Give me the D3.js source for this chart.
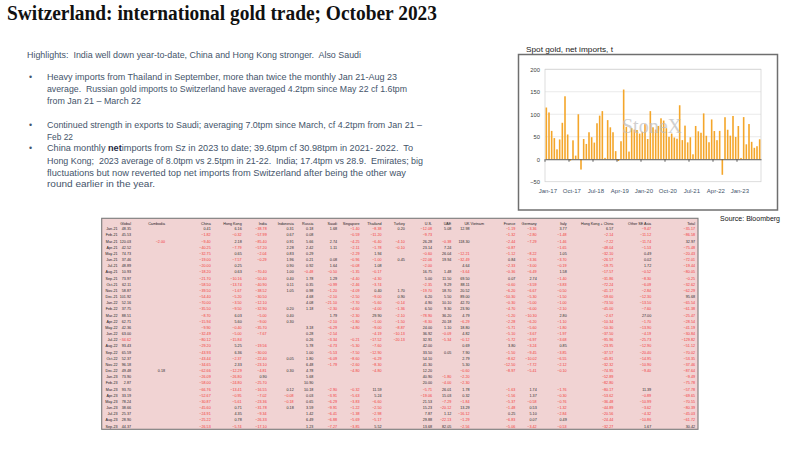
<!DOCTYPE html>
<html>
<head>
<meta charset="utf-8">
<script src="https://cdn.jsdelivr.net/npm/d3@7"></script>
<style>
  body { margin: 0; background: #fff; }
  svg { display: block; }
  text { white-space: pre; }
</style>
</head>
<body>
<div id="slide"></div>
<script>
// Switzerland gold trade slide: notes, spot net-imports bar chart, monthly table

const N = null;

// bar chart: spot gold net imports (t), Jan-17 .. Dec-20
const netImports1720 = [115, 104, 63, 47, 22, 44, 81, 140, 55, -3, 42, 8,
    100, -23, 45, 34, 60, 49, 37, 80, 97, 107, 3, 87,
    71, 60, 18, -4, 40, 155, 72, 17, 69, 66, 65, 57,
    61, 78, 45, 107, 71, 66, 74, 91, 86, 69, 50, 57];
const chartTicks = ["Jan-17", "Oct-17", "Jul-18", "Apr-19", "Jan-20", "Oct-20", "Jul-21", "Apr-22", "Jan-23"];
const yTicks = [-50, 0, 50, 100, 150, 200];

// table
const tableRows = ["Jan-21", "Feb-21", "Mar-21", "Apr-21", "May-21", "Jun-21", "Jul-21", "Aug-21", "Sep-21", "Oct-21", "Nov-21", "Dec-21",
    "Jan-22", "Feb-22", "Mar-22", "Apr-22", "May-22", "Jun-22", "Jul-22", "Aug-22", "Sep-22", "Oct-22", "Nov-22", "Dec-22",
    "Jan-23", "Feb-23", "Mar-23", "Apr-23", "May-23", "Jun-23", "Jul-23", "Aug-23", "Sep-23"];
const tableCols = ["Global", "Cambodia", "China", "Hong Kong", "India", "Indonesia", "Russia", "Saudi", "Singapore", "Thailand",
    "Turkey", "U.S.", "UAE", "UK", "Vietnam", "France", "Germany", "Italy", "Hong Kong + China", "Other SE Asia", "Total"];

const global = [48.35, 45.53, 120.03, 42.52, 74.73, 37.46, 48.89, 10.93, 73.97, 62.11, 58.87, 101.92,
    52.16, 37.75, 88.51, 62.71, 42.36, 63.00, -34.62, 93.43, 65.59, 52.37, 96.18, 49.48,
    73.90, 2.87, 93.70, 33.19, 78.24, 38.66, 25.37, 28.90, 44.37];
const cambodia = [N, N, -2.00, N, N, N, N, N, N, N, N, N,
    N, N, N, N, N, N, N, N, N, N, N, 0.18,
    N, N, N, N, N, N, N, N, N];
const china = [0.41, -1.82, -9.40, -40.25, -32.75, -19.00, -20.00, -18.20, -21.70, -58.50, -39.50, -54.40,
    -70.00, -35.50, -8.70, -15.94, -9.90, -32.49, -80.12, -29.20, -43.93, -43.44, -34.65, -62.66,
    -26.09, -58.00, -66.76, -52.67, -30.87, -45.60, -24.91, -25.22, -26.53];
const hongKong = [6.16, -0.32, 2.18, -7.79, 0.65, -7.57, 0.25, 0.63, -10.16, -13.74, -1.67, -5.20,
    -3.50, -9.50, 6.03, 5.60, -0.40, -5.00, -15.84, 5.25, 6.36, -2.37, 2.33, -12.29,
    -26.80, -24.80, -13.41, -0.95, -5.61, 0.71, 4.35, 0.78, -5.74];
const india = [-38.78, -57.99, -85.40, -57.20, -2.04, -0.29, N, -70.40, -50.40, -40.90, -38.52, -30.50,
    -12.10, -32.90, -5.00, -9.00, -35.70, -7.67, N, -19.56, -30.00, -22.40, -23.10, -4.81,
    0.90, -25.70, -16.55, -7.02, -23.36, -31.78, -9.34, -26.33, -17.10];
const indonesia = [0.31, 0.67, 0.91, 2.28, 0.83, 1.96, 0.90, 1.00, 0.40, 0.11, 1.05, N,
    N, 0.20, 0.40, 0.30, N, N, N, N, N, 0.05, N, 0.30,
    N, N, 0.12, -0.08, -0.18, 0.18, N, N, N];
const russia = [0.18, 0.08, 5.66, 2.42, 0.29, 0.21, 0.92, -0.48, 1.78, 0.35, 0.98, 4.68,
    4.08, 1.18, N, N, 3.18, 0.28, 0.26, 5.78, 1.00, 1.80, 6.48, 4.78,
    5.68, 10.90, 10.18, 0.03, 0.65, 3.59, 1.42, 6.49, 1.23];
const saudi = [1.68, N, 2.74, 1.11, N, 0.08, 1.64, -0.50, 1.29, -0.99, -1.20, -2.10,
    -21.10, -2.30, 1.79, -2.10, -6.29, -2.54, -3.34, -4.73, -5.53, -6.09, -1.79, N,
    N, N, -2.90, -3.91, -6.29, -9.91, -6.41, -6.88, -7.27];
const singapore = [-1.40, -0.59, -4.25, -2.11, -2.29, -0.96, -0.08, -1.35, -4.40, -2.46, -4.09, -2.50,
    -7.70, -4.60, -2.30, -1.80, -4.80, N, -0.21, -5.30, -7.50, -8.60, -2.60, -4.80,
    N, N, -0.32, -5.63, -3.83, -1.22, -1.38, -5.69, -3.85];
const thailand = [-8.38, -11.20, -6.40, -1.78, 1.94, -1.00, 1.08, -0.17, -4.30, -3.74, 0.40, -9.00,
    -5.60, -4.00, 29.90, -1.00, -9.00, -4.19, -17.52, -7.60, -12.90, -6.29, -8.30, -4.80,
    N, N, 11.59, 5.24, -6.60, -2.50, -2.98, -5.17, 5.52];
const turkey = [0.20, N, -4.10, -0.10, N, 0.45, N, N, N, N, 1.70, 0.90,
    -0.14, -1.36, -2.10, -1.50, -8.87, -10.13, -20.13, N, N, N, N, N,
    N, N, N, N, N, N, N, N, N];
const us = [-12.08, -9.73, 26.28, 23.14, -0.60, -22.06, -2.00, 16.75, 5.00, -2.35, -19.70, 6.20,
    4.90, 6.50, -78.90, -8.30, 24.00, 36.92, 32.91, 42.00, 33.50, 54.10, 41.30, 12.20,
    40.90, 20.00, -5.71, -19.06, 21.53, 15.23, 7.87, 29.88, 13.68];
const uae = [5.08, N, -0.38, 7.24, 26.04, 19.94, N, 1.48, 11.50, 9.29, 18.70, 5.50,
    10.10, 9.30, 36.20, 20.18, 1.10, -0.09, -5.34, N, 0.05, N, N, N,
    -1.80, -4.00, 26.01, 15.03, -7.29, -20.12, 1.12, -22.13, 82.05];
const uk = [12.98, N, 118.30, N, -12.21, -32.49, 4.64, -3.64, 69.50, 88.11, 20.52, 89.00,
    42.70, 23.90, 4.79, -6.29, 18.80, 4.82, -0.12, 0.69, 7.90, 2.79, 5.30, -0.60,
    -2.20, -2.30, 1.78, 0.32, -1.84, 13.29, -16.12, -1.29, -2.56];
const vietnam = [];
const france = [-1.19, -1.32, -2.44, -0.87, -1.12, 0.84, -2.33, -0.36, 0.07, -0.60, -6.20, -10.30,
    -0.30, -4.70, -1.20, -2.28, -5.71, -5.10, -5.72, 3.80, -1.50, -8.62, -12.50, -8.97,
    N, N, -1.63, -1.56, -5.37, -1.48, 0.25, -6.83, -5.06];
const germany = [-3.36, -2.80, -7.29, N, -8.22, -3.36, -3.00, -6.49, 2.74, -3.59, -6.67, -5.30,
    -5.00, -6.00, -10.30, -6.20, -5.60, -3.67, -6.97, -3.24, -9.45, -10.02, -7.72, -5.41,
    N, N, 1.74, 1.37, -0.58, 0.53, 5.10, 0.07, -3.42];
const italy = [3.77, -1.48, -1.46, -1.65, 1.05, -3.70, -0.19, 1.58, -1.40, -3.83, -0.50, -1.50,
    -1.00, -2.10, 2.80, -1.10, -1.80, -1.97, -3.68, 0.85, -3.85, -6.55, -2.12, -0.10,
    N, N, -1.76, -0.30, -0.76, -1.32, -2.84, 0.49, -0.53];
const hkChina = [6.57, -2.14, -7.22, -48.04, -32.10, -26.57, -19.75, -17.57, -31.86, -72.24, -41.17, -59.60,
    -73.50, -45.00, -2.67, -10.34, -10.30, -37.50, -95.96, -23.95, -37.57, -45.81, -32.32, -74.95,
    -52.89, -82.80, -80.17, -53.62, -36.48, -44.89, -20.56, -24.44, -32.27];
const otherSEAsia = [-9.47, -11.12, -11.74, -1.53, 0.49, 0.02, 1.72, -0.52, -8.30, -6.09, -2.84, -12.30,
    -13.50, -7.60, 27.00, -1.70, -13.90, -4.19, -25.73, -12.90, -20.40, -14.95, -10.90, -9.40,
    N, N, 11.39, -0.89, -10.99, -3.62, -4.32, -10.86, 1.67];
const total = [-35.17, -86.58, 32.97, -75.48, -20.43, -72.01, -19.44, -80.05, -0.25, -32.62, -62.29, 95.68,
    -65.54, -61.38, -25.47, -28.54, -41.19, -30.84, -129.82, -51.12, -70.02, -53.35, -37.46, -87.64,
    -9.49, -75.78, -57.78, -69.65, -70.55, -80.39, -45.03, -61.72, 30.42];

const tableData = [global, cambodia, china, hongKong, india, indonesia, russia, saudi, singapore, thailand,
    turkey, us, uae, uk, vietnam, france, germany, italy, hkChina, otherSEAsia, total];

// notes text
const highlights = "Highlights:  India well down year-to-date, China and Hong Kong stronger.  Also Saudi";
const bullets = [
    ["Heavy imports from Thailand in September, more than twice the monthly Jan 21-Aug 23",
     "average.  Russian gold imports to Switzerland have averaged 4.2tpm since May 22 cf 1.6tpm",
     "from Jan 21 \u2013 March 22"],
    ["Continued strength in exports to Saudi; averaging 7.0tpm since March, cf 4.2tpm from Jan 21 \u2013",
     "Feb 22"],
    ["China monthly |net|imports from Sz in 2023 to date; 39.6tpm cf 30.98tpm in 2021- 2022.  To",
     "Hong Kong;  2023 average of 8.0tpm vs 2.5tpm in 21-22.  India; 17.4tpm vs 28.9.  Emirates; big",
     "fluctuations but now reverted top net imports from Switzerland after being the other way",
     "round earlier in the year."]
];

// ---------------------------------------------------------------------------
const W = 800, H = 450;
const svg = d3.select("#slide").append("svg")
    .attr("width", W)
    .attr("height", H);

svg.append("rect").attr("width", W).attr("height", H).attr("fill", "#fff");

// Title
svg.append("text")
    .attr("x", 7)
    .attr("y", 20)
    .attr("textLength", 430)
    .attr("lengthAdjust", "spacingAndGlyphs")
    .style("font-family", "'Liberation Serif', 'DejaVu Serif', serif")
    .style("font-weight", "bold")
    .style("font-size", "20px")
    .attr("fill", "#111")
    .text("Switzerland: international gold trade; October 2023");

// Notes
const noteFont = "'Liberation Sans', Arial, sans-serif";
const noteColor = "#44546a";
const noteLines = [
    {x: 27, y: 58, w: 334, t: highlights},
    {x: 47, y: 79.5, w: 350, t: bullets[0][0], dot: true},
    {x: 47, y: 91.8, w: 360, t: bullets[0][1]},
    {x: 47, y: 104, w: 94, t: bullets[0][2]},
    {x: 47, y: 128, w: 375, t: bullets[1][0], dot: true},
    {x: 47, y: 139.5, w: 26, t: bullets[1][1]},
    {x: 47, y: 151.3, w: 366, t: bullets[2][0], dot: true},
    {x: 47, y: 163.5, w: 376, t: bullets[2][1]},
    {x: 47, y: 175.5, w: 359, t: bullets[2][2]},
    {x: 47, y: 187.3, w: 108, t: bullets[2][3]}
];

noteLines.forEach(l => {
    if (l.dot) {
        svg.append("text")
            .attr("x", 29)
            .attr("y", l.y)
            .style("font-family", noteFont)
            .style("font-size", "8.8px")
            .attr("fill", noteColor)
            .text("\u2022");
    }
    const t = svg.append("text")
        .attr("x", l.x)
        .attr("y", l.y)
        .attr("textLength", l.w)
        .attr("lengthAdjust", "spacingAndGlyphs")
        .style("font-family", noteFont)
        .style("font-size", "8.8px")
        .attr("fill", noteColor);
    // "|net|" marks the bold word
    l.t.split("|").forEach((part, i) => {
        t.append("tspan")
            .style("font-weight", i === 1 ? "bold" : "normal")
            .attr("fill", i === 1 ? "#1f2a44" : noteColor)
            .text(part);
    });
});

// ---------------------------------------------------------------------------
// Spot gold chart
const months = d3.timeMonth.range(new Date(2017, 0, 1), new Date(2023, 9, 1)).map(d3.timeFormat("%b-%y"));
const netImports = netImports1720.concat(global);
const barData = months.map((m, i) => ({month: m, value: netImports[i]}));

svg.append("text")
    .attr("x", 526)
    .attr("y", 51.5)
    .attr("textLength", 87)
    .attr("lengthAdjust", "spacingAndGlyphs")
    .style("font-family", "'Liberation Sans', Arial, sans-serif")
    .style("font-size", "7.5px")
    .attr("fill", "#222")
    .text("Spot gold, net imports, t");

svg.append("rect")
    .attr("x", 518.5)
    .attr("y", 54.5)
    .attr("width", 259)
    .attr("height", 155.5)
    .attr("fill", "#fff")
    .attr("stroke", "#6f6f6f")
    .attr("stroke-width", 1.5);

const plot = {left: 545, right: 761, top: 69.3, bottom: 181.7};

const x = d3.scaleBand()
    .domain(months)
    .range([plot.left, plot.right])
    .paddingInner(0.4)
    .paddingOuter(0.2);

const y = d3.scaleLinear()
    .domain([-50, 200])
    .range([plot.bottom, plot.top]);

// gridlines
svg.append("g")
    .selectAll("line")
    .data(yTicks.filter(v => v > 0))
    .join("line")
    .attr("x1", plot.left)
    .attr("x2", plot.right)
    .attr("y1", d => y(d))
    .attr("y2", d => y(d))
    .attr("stroke", "#e4e4e4")
    .attr("stroke-width", 0.8);

svg.append("rect")
    .attr("x", plot.left)
    .attr("y", plot.top)
    .attr("width", plot.right - plot.left)
    .attr("height", plot.bottom - plot.top)
    .attr("fill", "none")
    .attr("stroke", "#d4d4d4")
    .attr("stroke-width", 0.8);

// bars
svg.append("g")
    .selectAll("rect")
    .data(barData)
    .join("rect")
    .attr("x", d => x(d.month))
    .attr("y", d => Math.min(y(d.value), y(0)))
    .attr("width", x.bandwidth())
    .attr("height", d => Math.abs(y(d.value) - y(0)))
    .attr("fill", "#f4a62a");

// watermark
svg.append("text")
    .attr("x", 652)
    .attr("y", 133)
    .attr("text-anchor", "middle")
    .style("font-family", "'Liberation Serif', serif")
    .style("font-size", "20px")
    .attr("fill", "#bdbdbd")
    .attr("opacity", 0.7)
    .text("StoneX");

// zero axis with ticks
const xAxis = d3.axisBottom(x)
    .tickValues(chartTicks)
    .tickSize(2.5)
    .tickSizeOuter(0)
    .tickFormat("");

const xAxisG = svg.append("g")
    .attr("transform", `translate(0,${y(0)})`)
    .call(xAxis);
xAxisG.select(".domain").attr("stroke", "#595959").attr("stroke-width", 1);
xAxisG.selectAll(".tick line")
    .attr("stroke", "#595959")
    .attr("transform", `translate(${-x.step() * 0.5},0)`);

// x labels
svg.append("g")
    .selectAll("text")
    .data(chartTicks)
    .join("text")
    .attr("x", d => x(d) + x.bandwidth() / 2 + 1.5)
    .attr("y", 193)
    .attr("text-anchor", "middle")
    .style("font-family", "'Liberation Sans', Arial, sans-serif")
    .style("font-size", "6px")
    .attr("fill", "#44546a")
    .text(d => d);

// y axis labels
const yAxis = d3.axisLeft(y).tickValues(yTicks).tickSize(0).tickPadding(5);
const yAxisG = svg.append("g")
    .attr("transform", `translate(${plot.left},0)`)
    .call(yAxis);
yAxisG.select(".domain").remove();
yAxisG.selectAll("text")
    .style("font-family", "'Liberation Sans', Arial, sans-serif")
    .style("font-size", "5.8px")
    .attr("fill", "#404040");

svg.append("text")
    .attr("x", 780)
    .attr("y", 221)
    .attr("text-anchor", "end")
    .style("font-family", "'Liberation Sans', Arial, sans-serif")
    .style("font-size", "7px")
    .attr("fill", "#111")
    .text("Source: Bloomberg");

// ---------------------------------------------------------------------------
// Table
const tbl = {left: 101.7, right: 698, top: 218.3, bottom: 429.3};
const colRight = [131, 165, 210.7, 241.7, 266.7, 293.7, 313.3, 337, 359.5, 381.5,
    404.8, 432, 451.3, 469.5, 484, 515.3, 536.7, 566.7, 613.3, 651.2, 695];

const colX = d3.scaleOrdinal().domain(tableCols).range(colRight);
const rowY = d3.scaleBand().domain(tableRows).range([225.9, 429.3]);

svg.append("rect")
    .attr("x", tbl.left)
    .attr("y", tbl.top)
    .attr("width", tbl.right - tbl.left)
    .attr("height", tbl.bottom - tbl.top)
    .attr("fill", "#f1d3d3")
    .attr("stroke", "#7a7a7a")
    .attr("stroke-width", 1.1);

const cellFont = "'Liberation Sans', Arial, sans-serif";
const cellSize = "3.7px";
const fmt = d3.format(".2f");

// header
svg.append("g")
    .selectAll("text")
    .data(tableCols)
    .join("text")
    .attr("x", d => colX(d))
    .attr("y", 223.8)
    .attr("dy", "0.35em")
    .attr("text-anchor", "end")
    .style("font-family", cellFont)
    .style("font-size", cellSize)
    .attr("fill", "#222")
    .text(d => d);

// row labels
svg.append("g")
    .selectAll("text")
    .data(tableRows)
    .join("text")
    .attr("x", 117.5)
    .attr("y", d => rowY(d) + rowY.bandwidth() / 2)
    .attr("dy", "0.35em")
    .attr("text-anchor", "end")
    .style("font-family", cellFont)
    .style("font-size", cellSize)
    .attr("fill", "#222")
    .text(d => d);

// cells
const cells = [];
tableCols.forEach((c, ci) => {
    tableRows.forEach((r, ri) => {
        const v = tableData[ci][ri];
        if (v !== null && v !== undefined) cells.push({col: c, row: r, value: v});
    });
});

svg.append("g")
    .selectAll("text")
    .data(cells)
    .join("text")
    .attr("x", d => colX(d.col))
    .attr("y", d => rowY(d.row) + rowY.bandwidth() / 2)
    .attr("dy", "0.35em")
    .attr("text-anchor", "end")
    .style("font-family", cellFont)
    .style("font-size", cellSize)
    .attr("fill", d => d.value < 0 ? "#f23a3a" : "#2a2a2a")
    .text(d => fmt(d.value));
</script>
</body>
</html>
